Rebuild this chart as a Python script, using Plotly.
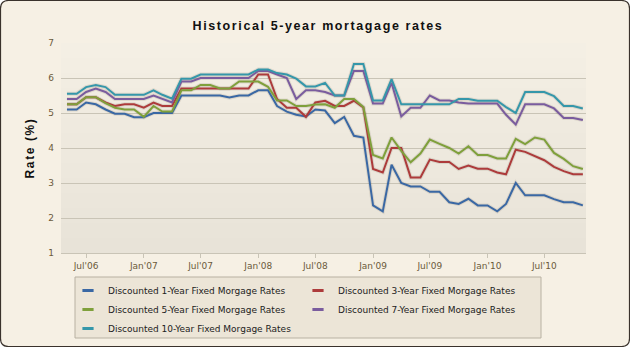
import plotly.graph_objects as go
import pandas as pd

dates = pd.date_range("2006-05-01", "2010-11-01", freq="MS")

rate_1yr = [5.10, 5.10, 5.30, 5.25, 5.10, 4.98, 4.98, 4.88, 4.88, 5.00, 5.00, 5.00,
            5.50, 5.50, 5.50, 5.50, 5.50, 5.44, 5.50, 5.50, 5.65, 5.65, 5.20, 5.04,
            4.95, 4.90, 5.10, 5.07, 4.71, 4.89, 4.35, 4.30, 2.36, 2.19, 3.52, 3.00,
            2.90, 2.90, 2.75, 2.75, 2.45, 2.40, 2.55, 2.36, 2.36, 2.19, 2.40, 3.00,
            2.65, 2.65, 2.65, 2.54, 2.45, 2.45, 2.36]
rate_3yr = [5.25, 5.25, 5.45, 5.45, 5.30, 5.20, 5.25, 5.25, 5.15, 5.30, 5.20, 5.20,
            5.70, 5.70, 5.70, 5.70, 5.70, 5.70, 5.70, 5.70, 6.10, 6.10, 5.40, 5.15,
            5.15, 4.89, 5.30, 5.35, 5.20, 5.20, 5.35, 5.16, 3.40, 3.30, 4.00, 4.00,
            3.16, 3.16, 3.67, 3.60, 3.60, 3.40, 3.50, 3.41, 3.41, 3.30, 3.25, 3.95,
            3.89, 3.76, 3.65, 3.46, 3.34, 3.25, 3.25]
rate_5yr = [5.25, 5.25, 5.45, 5.45, 5.28, 5.15, 5.10, 5.10, 4.89, 5.20, 5.04, 5.04,
            5.65, 5.65, 5.80, 5.80, 5.70, 5.70, 5.90, 5.90, 5.90, 5.75, 5.36, 5.36,
            5.20, 5.20, 5.24, 5.25, 5.15, 5.40, 5.40, 5.17, 3.80, 3.70, 4.30, 3.92,
            3.59, 3.84, 4.24, 4.12, 4.00, 3.84, 4.05, 3.80, 3.80, 3.70, 3.70, 4.26,
            4.11, 4.30, 4.24, 3.86, 3.69, 3.48, 3.40]
rate_7yr = [5.40, 5.40, 5.60, 5.70, 5.60, 5.40, 5.40, 5.40, 5.40, 5.50, 5.40, 5.30,
            5.90, 5.90, 6.00, 6.00, 6.00, 6.00, 6.00, 6.00, 6.20, 6.20, 6.10, 6.00,
            5.40, 5.65, 5.65, 5.60, 5.50, 5.50, 6.20, 6.20, 5.27, 5.27, 5.86, 4.90,
            5.15, 5.15, 5.50, 5.36, 5.36, 5.30, 5.27, 5.27, 5.27, 5.27, 4.95, 4.67,
            5.25, 5.25, 5.25, 5.13, 4.86, 4.86, 4.80]
rate_10yr = [5.55, 5.55, 5.74, 5.80, 5.74, 5.52, 5.52, 5.52, 5.52, 5.65, 5.52, 5.41,
             5.98, 5.98, 6.10, 6.10, 6.10, 6.10, 6.10, 6.10, 6.24, 6.24, 6.14, 6.10,
             5.98, 5.76, 5.76, 5.86, 5.50, 5.50, 6.40, 6.40, 5.36, 5.36, 5.97, 5.25,
             5.25, 5.25, 5.25, 5.25, 5.25, 5.40, 5.40, 5.35, 5.35, 5.35, 5.17, 5.00,
             5.60, 5.60, 5.60, 5.48, 5.20, 5.20, 5.13]

series_names = ["Discounted 1-Year Fixed Morgage Rates",
                "Discounted 3-Year Fixed Morgage Rates",
                "Discounted 5-Year Fixed Morgage Rates",
                "Discounted 7-Year Fixed Morgage Rates",
                "Discounted 10-Year Fixed Morgage Rates"]
series_values = [rate_1yr, rate_3yr, rate_5yr, rate_7yr, rate_10yr]
colors = ["#3A68A4", "#AD3B3B", "#7FA03B", "#7A5C9E", "#3597AA"]

tick_vals = ["2006-07-01", "2007-01-01", "2007-07-01", "2008-01-01", "2008-07-01",
             "2009-01-01", "2009-07-01", "2010-01-01", "2010-07-01"]
tick_text = ["Jul'06", "Jan'07", "Jul'07", "Jan'08", "Jul'08",
             "Jan'09", "Jul'09", "Jan'10", "Jul'10"]

W, H = 630, 347
L, R, T, B = 61, 44, 43, 94
pw, ph = W - L - R, H - T - B


def px2x(px):
    return (px - L) / pw


def py2y(py):
    return (H - B - py) / ph


fig = go.Figure()

# soft shadows
for vals in series_values:
    fig.add_trace(go.Scatter(x=dates, y=vals, mode="lines",
                             line=dict(color="rgba(60,40,20,0.10)", width=4),
                             hoverinfo="skip", showlegend=False))

for name, vals, c in zip(series_names, series_values, colors):
    fig.add_trace(go.Scatter(x=dates, y=vals, mode="lines", name=name,
                             line=dict(color=c, width=2), showlegend=False))

# legend entries (short dash markers)
for name, c in zip(series_names, colors):
    fig.add_trace(go.Scatter(x=[None], y=[None], mode="markers", name=name,
                             marker=dict(symbol="line-ew", size=8, color=c,
                                         line=dict(color=c, width=3))))

shapes = []
# outer rounded border
x0, x1 = px2x(0.5), px2x(W - 0.5)
y0, y1 = py2y(H - 0.5), py2y(0.5)
rx, ry = 8 / pw, 8 / ph
path = (f"M {x0+rx},{y1} L {x1-rx},{y1} Q {x1},{y1} {x1},{y1-ry} "
        f"L {x1},{y0+ry} Q {x1},{y0} {x1-rx},{y0} L {x0+rx},{y0} "
        f"Q {x0},{y0} {x0},{y0+ry} L {x0},{y1-ry} Q {x0},{y1} {x0+rx},{y1} Z")
shapes.append(dict(type="path", xref="paper", yref="paper", path=path,
                   fillcolor="#F6F0E4", line=dict(color="#3A322C", width=1.2),
                   layer="below"))
# plot background gradient bands
nb = 14
top = (244, 239, 228)
bot = (232, 227, 216)
for i in range(nb):
    f = i / (nb - 1)
    col = tuple(round(top[k] + (bot[k] - top[k]) * f) for k in range(3))
    shapes.append(dict(type="rect", xref="x domain", yref="y domain",
                       x0=0, x1=1, y0=1 - (i + 1) / nb, y1=1 - i / nb,
                       fillcolor="rgb(%d,%d,%d)" % col, line=dict(width=0),
                       layer="below"))
# legend box
shapes.append(dict(type="rect", xref="paper", yref="paper",
                   x0=px2x(75), x1=px2x(541), y0=py2y(338), y1=py2y(277),
                   fillcolor="#ECE5D7", line=dict(color="#B8B1A2", width=1),
                   layer="below"))

fig.update_layout(
    width=W, height=H,
    margin=dict(l=L, r=R, t=T, b=B, autoexpand=False),
    paper_bgcolor="white",
    plot_bgcolor="rgba(0,0,0,0)",
    shapes=shapes,
    title=dict(text="<span style='letter-spacing:1.6px'><b>Historical 5-year mortagage rates</b></span>",
               x=318 / W, xanchor="center", xref="container",
               y=1 - 26 / H, yanchor="middle",
               font=dict(family="Liberation Sans, Arial, sans-serif", size=12.5,
                         color="#111111")),
    font=dict(family="DejaVu Sans, Verdana, sans-serif", size=9, color="#6B5A3A"),
    xaxis=dict(range=["2006-04-12", "2010-11-11"], tickvals=tick_vals,
               ticktext=tick_text, showgrid=False, zeroline=False,
               showline=True, linecolor="#C9C4B6", linewidth=1,
               ticks="outside", ticklen=4, tickcolor="#C9C4B6",
               tickfont=dict(size=9, color="#6B5A3A")),
    yaxis=dict(range=[1, 7], dtick=1, showgrid=True, gridcolor="#C9C4B6",
               gridwidth=1, zeroline=False, showline=False,
               ticks="", ticklabelstandoff=6,
               tickfont=dict(size=9, color="#6B5A3A"),
               title=dict(text="<span style='letter-spacing:1.6px'><b>Rate (%)</b></span>",
                          standoff=11,
                          font=dict(family="Liberation Sans, Arial, sans-serif",
                                    size=12, color="#111111"))),
    legend=dict(orientation="h", x=px2x(68), xanchor="left",
                y=py2y(276), yanchor="top",
                bgcolor="rgba(0,0,0,0)", borderwidth=0,
                entrywidth=185, entrywidthmode="pixels",
                itemwidth=30, tracegroupgap=0,
                font=dict(family="DejaVu Sans, Verdana, sans-serif", size=9,
                          color="#222222")),
    showlegend=True,
)

fig.write_html("out.html")
